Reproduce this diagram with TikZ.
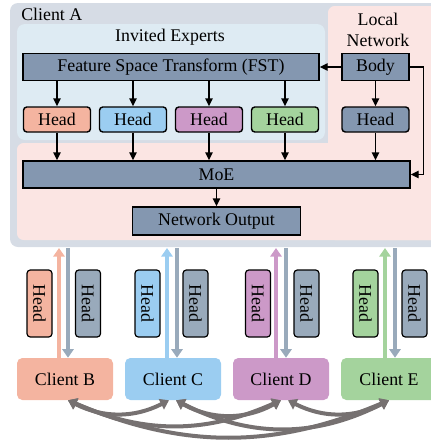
\documentclass[tikz,border=0pt]{standalone}
\usepackage{fontspec}
\setmainfont{Liberation Serif}
\usetikzlibrary{arrows.meta,calc}
\definecolor{outergray}{HTML}{D6DCE5}
\definecolor{pinkbg}{HTML}{FBE5E3}
\definecolor{bluebg}{HTML}{DEEBF3}
\definecolor{slate}{HTML}{8497B0}
\definecolor{cB}{HTML}{F4B4A0}
\definecolor{cC}{HTML}{9BCDF1}
\definecolor{cD}{HTML}{CC99C8}
\definecolor{cE}{HTML}{A4D39D}
\definecolor{gh}{HTML}{99AABB}
\definecolor{arc}{HTML}{767171}
\begin{document}
\begin{tikzpicture}[x=0.75pt,y=-0.75pt,
  font=\fontsize{13.4}{15.5}\selectfont,
  box/.style={draw=black, line width=1.1pt, fill=slate, inner sep=0pt},
  headbox/.style={draw=black, line width=1.1pt, rounded corners=2.5pt, minimum width=50.25pt, minimum height=18.75pt, inner sep=0pt},
  vhead/.style={draw=black, line width=0.9pt, rounded corners=2.5pt, minimum width=50.25pt, minimum height=18.75pt, inner sep=0pt, rotate=-90},
  client/.style={rounded corners=4pt, minimum width=72pt, minimum height=31.5pt, inner sep=0pt},
  arr/.style={-{Triangle[length=6pt,width=5.5pt]}, line width=1.1pt},
  fat/.style={line width=3pt, -{Triangle[length=6.5pt,width=8.5pt]}},
  arcarr/.style={line width=3pt, arc, {Triangle[length=6.5pt,width=8.5pt]}-{Triangle[length=6.5pt,width=8.5pt]}}
]
\useasboundingbox (0,0) rectangle (431,440);
% containers
\fill[outergray, rounded corners=6pt] (10,3) rectangle (450,247);
\fill[pinkbg, rounded corners=5pt] (328,6) rectangle (450,240);
\fill[pinkbg, rounded corners=5pt] (17,143) rectangle (450,240);
\fill[bluebg, rounded corners=6pt] (17,24) rectangle (325,140);
\node[anchor=west, inner sep=0pt] (ca) at (21,14) {Client A};
\node[inner sep=0pt] (ie) at (170,37) {Invited Experts};
\node[align=center, inner sep=0pt] (ln) at (378,30) {Local\\Network};
\coordinate (Abot) at (216,248);
% top boxes
\node[box, minimum width=222pt, minimum height=20.25pt] (fst) at (171,67) {Feature Space Transform (FST)};
\node[box, minimum width=50.25pt, minimum height=20.25pt] (body) at (375.5,67) {Body};
\node[headbox, fill=cB] (h1) at (57,119.5) {Head};
\node[headbox, fill=cC] (h2) at (133,119.5) {Head};
\node[headbox, fill=cD] (h3) at (209,119.5) {Head};
\node[headbox, fill=cE] (h4) at (285,119.5) {Head};
\node[headbox, fill=slate] (lh) at (375.5,119.5) {Head};
\node[box, minimum width=290.25pt, minimum height=20.25pt] (moe) at (216.5,174.5) {MoE};
\node[box, minimum width=126pt, minimum height=21pt] (out) at (216.5,221) {Network Output};
% top connectors
\draw[arr] (body.west) -- (fst.east);
\foreach \h in {h1,h2,h3,h4} {
  \draw[arr] (fst.south -| \h.north) -- (\h.north);
  \draw[arr] (\h.south) -- (\h.south |- moe.north);
}
\draw[arr] (body.south) -- (lh.north);
\draw[arr] (lh.south) -- (lh.south |- moe.north);
\draw[arr] (body.east) -- ++(14,0) |- (moe.east);
\draw[arr] (moe.south) -- (out.north);
% clients
\node[client, fill=cB] (B) at (65,379) {Client B};
\node[client, fill=cC] (C) at (173,379) {Client C};
\node[client, fill=cD] (D) at (281,379) {Client D};
\node[client, fill=cE] (E) at (389,379) {Client E};
% vertical heads
\node[vhead, fill=cB] (vb1) at (39.5,303.5) {Head};
\node[vhead, fill=gh] (vb2) at (88,303.5) {Head};
\node[vhead, fill=cC] (vc1) at (147.5,303.5) {Head};
\node[vhead, fill=gh] (vc2) at (195.5,303.5) {Head};
\node[vhead, fill=cD] (vd1) at (258,303.5) {Head};
\node[vhead, fill=gh] (vd2) at (306.5,303.5) {Head};
\node[vhead, fill=cE] (ve1) at (365.5,303.5) {Head};
\node[vhead, fill=gh] (ve2) at (414.5,303.5) {Head};
% up / down arrows
\foreach \c/\col/\uo/\dn in {B/cB/-6/3, C/cC/-6/4, D/cD/-5/5, E/cE/-4/6} {
  \coordinate (\c up) at ($(\c.north)+(\uo,0)$);
  \coordinate (\c dn) at ($(\c.north)+(\dn,0)$);
  \draw[fat, draw=\col, fill=\col] (\c up) -- (\c up |- Abot);
  \draw[fat, draw=gh, fill=gh] (\c dn |- Abot) -- (\c dn);
}
% arcs between clients
\draw[arcarr] ($(B.south)+(3,0)$) to[bend right=27] ($(C.south)+(-4,0)$);
\draw[arcarr] ($(B.south)+(3,0)$) to[bend right=24] ($(D.south)+(0,0)$);
\draw[arcarr] ($(B.south)+(3,0)$) to[bend right=23] ($(E.south)+(0,0)$);
\draw[arcarr] ($(C.south)+(3,0)$) to[bend right=29] ($(D.south)+(0,0)$);
\draw[arcarr] ($(C.south)+(3,0)$) to[bend right=27] ($(E.south)+(0,0)$);
\draw[arcarr] ($(D.south)+(7,0)$) to[bend right=27] ($(E.south)+(0,0)$);
\end{tikzpicture}
\end{document}
